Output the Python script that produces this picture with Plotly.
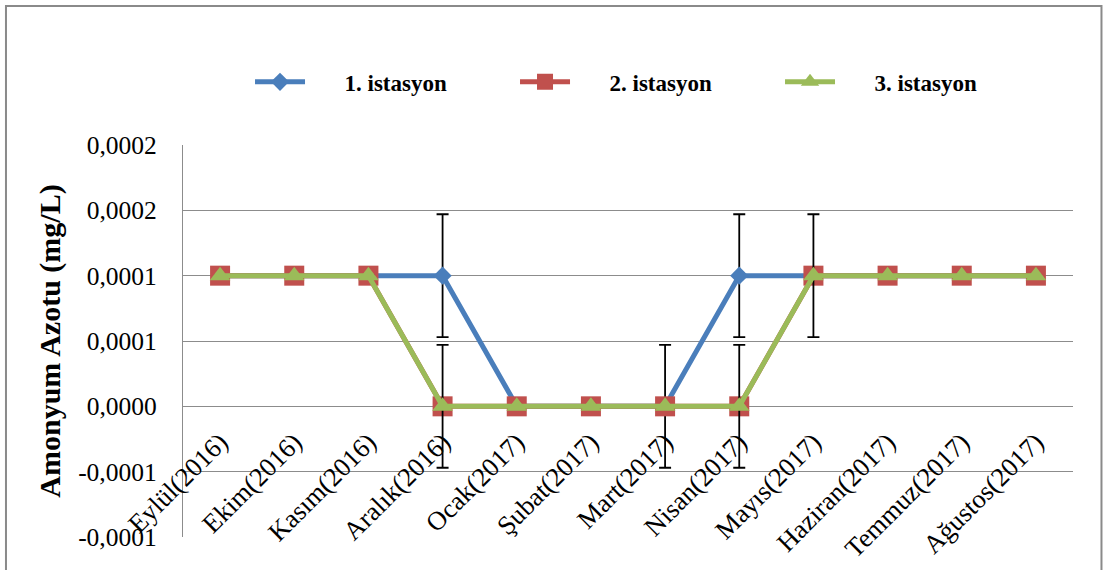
import plotly.graph_objects as go

# Monthly sampling periods
months = ["Eylül(2016)", "Ekim(2016)", "Kasım(2016)", "Aralık(2016)",
          "Ocak(2017)", "Şubat(2017)", "Mart(2017)", "Nisan(2017)",
          "Mayıs(2017)", "Haziran(2017)", "Temmuz(2017)", "Ağustos(2017)"]

# Station names
stations = ["1. istasyon", "2. istasyon", "3. istasyon"]

# Ammonium nitrogen (mg/L) per station
station1 = [0.0001, 0.0001, 0.0001, 0.0001, 0.0, 0.0, 0.0, 0.0001,
            0.0001, 0.0001, 0.0001, 0.0001]
station2 = [0.0001, 0.0001, 0.0001, 0.0, 0.0, 0.0, 0.0, 0.0,
            0.0001, 0.0001, 0.0001, 0.0001]
station3 = [0.0001, 0.0001, 0.0001, 0.0, 0.0, 0.0, 0.0, 0.0,
            0.0001, 0.0001, 0.0001, 0.0001]

# Standard deviations (None = no error bar)
err1 = [None, None, None, 0.000047, None, None, 0.000047, 0.000047,
        None, None, None, None]
err3 = [None, None, None, 0.000047, None, None, None, 0.000047,
        0.000047, None, None, None]

# Y axis ticks and their 4-decimal comma labels
y_ticks = [-0.0001, -0.00005, 0.0, 0.00005, 0.0001, 0.00015, 0.0002]
y_tick_labels = ["-0,0001", "-0,0001", "0,0000", "0,0001", "0,0001",
                 "0,0002", "0,0002"]

SERIF = "Liberation Serif"
GRID = "#8c8c8c"
PAD = "\u2002" * 3  # gap between legend symbol and label


def legend_name(label):
    return PAD + "<b>" + label + "</b>"


err_style = dict(type="data", visible=True, color="black",
                 thickness=1.8, width=6)

fig = go.Figure()
fig.add_trace(go.Scatter(
    x=months, y=station1, name=legend_name(stations[0]), mode="lines+markers",
    line=dict(color="#4A7EBB", width=5),
    marker=dict(symbol="diamond", size=14, color="#4A7EBB"),
    error_y=dict(array=err1, **err_style),
))
fig.add_trace(go.Scatter(
    x=months, y=station2, name=legend_name(stations[1]), mode="lines+markers",
    line=dict(color="#C0504D", width=5),
    marker=dict(symbol="square", size=20, color="#C0504D"),
))
fig.add_trace(go.Scatter(
    x=months, y=station3, name=legend_name(stations[2]), mode="lines+markers",
    line=dict(color="#9BBB59", width=5),
    marker=dict(symbol="triangle-up", size=18, color="#9BBB59"),
    error_y=dict(array=err3, **err_style),
))

fig.update_layout(
    width=1104, height=570,
    margin=dict(l=183, r=31, t=145, b=33, autoexpand=False),
    paper_bgcolor="white", plot_bgcolor="white",
    font=dict(family=SERIF, color="black"),
    showlegend=True,
    legend=dict(
        orientation="h", x=0.0753, y=1.161, xanchor="left", yanchor="middle",
        font=dict(family=SERIF, size=23, color="black"),
        entrywidth=200, itemwidth=50,
    ),
    xaxis=dict(
        type="category", range=[-0.5, 11.5], automargin=False,
        anchor="free", position=1 / 3 - 14 / 392,
        showgrid=False, showline=False, zeroline=False, ticks="",
        tickangle=-45, tickfont=dict(family=SERIF, size=26.5, color="black"),
    ),
    yaxis=dict(
        range=[-0.0001, 0.0002], domain=[0, 1], automargin=False,
        tickvals=y_ticks, ticktext=y_tick_labels,
        tickfont=dict(family=SERIF, size=25.5, color="black"),
        ticklabelstandoff=20,
        showgrid=True, gridcolor=GRID, gridwidth=1.3,
        zeroline=True, zerolinecolor=GRID, zerolinewidth=1.3,
        showline=True, linecolor=GRID, linewidth=1.3,
        title=dict(text="<b>Amonyum Azotu (mg/L)</b>", standoff=8,
                   font=dict(family=SERIF, size=30, color="black")),
    ),
    shapes=[dict(type="rect", xref="paper", yref="paper",
                 x0=-0.1989, x1=1.032, y0=-0.12, y1=1.3546,
                 line=dict(color="#8a8a8a", width=2), layer="below")],
)

fig.write_html("out.html")
